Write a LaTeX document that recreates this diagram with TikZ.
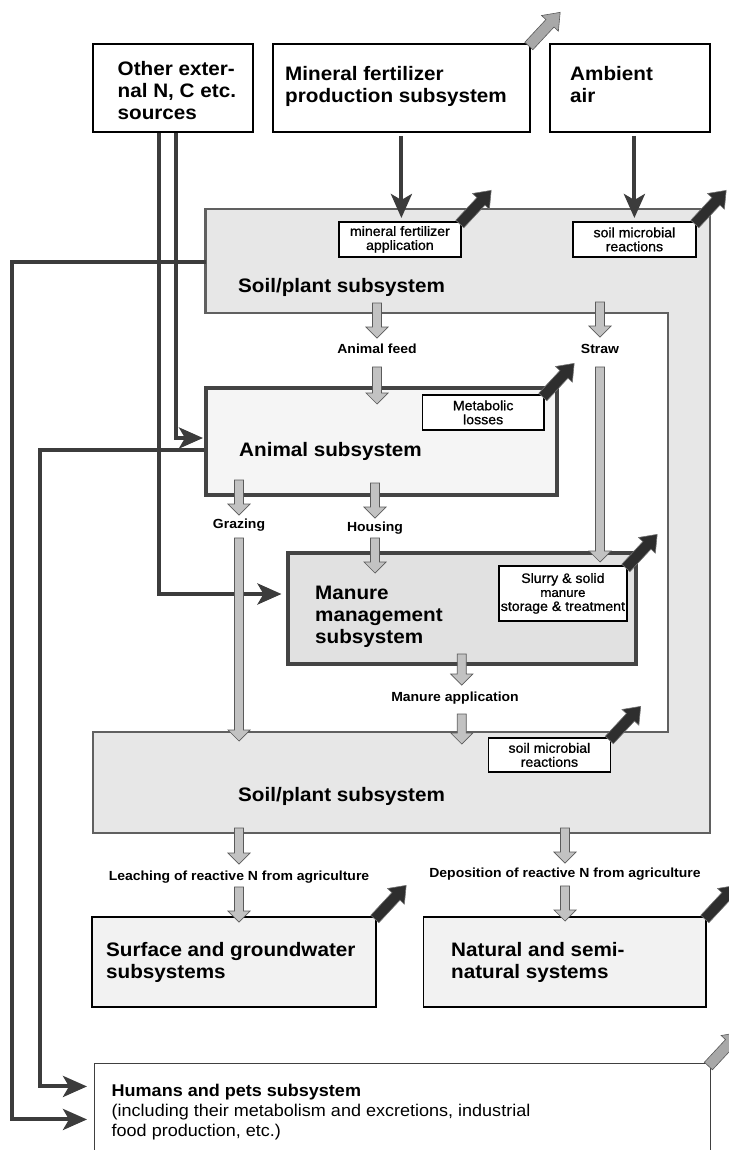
\documentclass[tikz,border=0pt]{standalone}
\usepackage{fontspec}
\setmainfont[FakeStretch=1.06]{Liberation Sans}
\newfontfamily\tagfamily[FakeStretch=1.04,FakeBold=0.9]{Liberation Sans}
\usetikzlibrary{arrows.meta,calc,positioning}

\definecolor{linkgray}{HTML}{3C3C3C}
\definecolor{soilfill}{HTML}{E7E7E7}
\definecolor{soiledge}{HTML}{606060}
\definecolor{animalfill}{HTML}{F5F5F5}
\definecolor{manurefill}{HTML}{E1E1E1}
\definecolor{boxfill}{HTML}{F2F2F2}
\definecolor{subedge}{HTML}{444444}
\definecolor{flowfill}{HTML}{C2C2C2}
\definecolor{flowedge}{HTML}{5A5A5A}
\definecolor{emisdark}{HTML}{2E2E2E}
\definecolor{emislight}{HTML}{A8A8A8}

\newcommand\titlefont{\fontsize{19.5}{22}\selectfont\bfseries}
\newcommand\flowfont{\fontsize{13.2}{14}\selectfont\bfseries}
\newcommand\tagfont{\tagfamily\fontsize{13.6}{14}\selectfont}
\newcommand\humanfont{\fontsize{17}{20}\selectfont}

\newcommand\flowarrow[2]{%
  \filldraw[flowstyle] let \p1=#1, \p2=#2 in
    (\x1-4.5pt,\y1) -- (\x1-4.5pt,\y2+11pt) -- (\x1-11pt,\y2+11pt) -- (\x1,\y2)
    -- (\x1+11pt,\y2+11pt) -- (\x1+4.5pt,\y2+11pt) -- (\x1+4.5pt,\y1) -- cycle;}

\begin{document}
\begin{tikzpicture}[x=1pt,y=-1pt,
    box/.style={draw=black, line width=1.8pt, fill=white, anchor=north west, inner sep=0pt},
    tag/.style={box, font=\tagfont, align=center},
    subsys/.style={draw=subedge, line width=4pt, anchor=north west, inner sep=0pt},
    title/.style={font=\titlefont, align=left, anchor=north west, inner sep=0pt},
    flowlabel/.style={font=\flowfont, inner sep=0pt, text height=9.5pt, text depth=0pt},
    link/.style={draw=linkgray, line width=4pt, -{Stealth[length=24pt,width=21pt,inset=6pt]}},
    flowstyle/.style={draw=flowedge, fill=flowfill, line width=0.7pt},
    soil/.style={draw=soiledge, fill=soilfill, line width=2.5pt},
    darkemis/.style={draw=black!55, fill=emisdark, line width=0.6pt},
    grayemis/.style={draw=black!65, fill=emislight, line width=0.6pt},
    pics/emission/.style={code={\filldraw[#1] (0,-5.5) -- (31,-5.5) -- (31,-11.5)
        -- (46,0) -- (31,11.5) -- (31,5.5) -- (0,5.5) -- cycle;}}]
  \useasboundingbox (0,0) rectangle (728,1150);

  \draw[soil] (205.5,209) -- (710,209) -- (710,833) -- (93,833) -- (93,732)
    -- (668,732) -- (668,313) -- (205.5,313) -- cycle;
  \coordinate (soilW) at (205.5,262);
  \coordinate (lowtop) at (0,732);

  \node[box, minimum width=160pt, minimum height=88pt] (ext) at (92,43) {};
  \node[box, minimum width=257pt, minimum height=88pt] (mineral) at (272,43) {};
  \node[box, minimum width=160pt, minimum height=88pt] (ambient) at (549,43) {};
  \node[tag, minimum width=122pt, minimum height=35pt] (mfa) at (338,221) {mineral fertilizer\\application};
  \node[tag, minimum width=123pt, minimum height=35pt] (smrtop) at (572,221) {soil microbial\\reactions};
  \node[subsys, fill=animalfill, minimum width=351pt, minimum height=107pt] (animal) at (204,386) {};
  \node[tag, minimum width=121.5pt, minimum height=35pt] (metab) at (421.5,394) {Metabolic\\losses};
  \node[subsys, fill=manurefill, minimum width=348.5pt, minimum height=111pt] (manure) at (285.5,551) {};
  \node[tag, minimum width=128pt, minimum height=55pt] (slurry) at (498,565)
    {Slurry \& solid\\{\fontsize{12.8}{13}\selectfont manure}\\storage \& treatment};
  \node[tag, minimum width=122pt, minimum height=34pt] (smrlow) at (487.5,737) {soil microbial\\reactions};
  \node[box, fill=boxfill, minimum width=284pt, minimum height=90pt] (surface) at (91,916) {};
  \node[box, fill=boxfill, minimum width=282.5pt, minimum height=90pt] (natural) at (422.5,916) {};
  \node[box, draw=black!75, line width=0.9pt, minimum width=615.5pt, minimum height=140pt] (humans) at (94,1063) {};

  \node[title] (extlabel) at (117.5,61) {Other exter-\\nal N, C etc.\\sources};
  \node[title] (minlabel) at (285,66) {Mineral fertilizer\\production subsystem};
  \node[title] (airlabel) at (570,66) {Ambient\\air};
  \node[title] (soiltoplabel) at (238,278) {Soil/plant subsystem};
  \node[title] (animallabel) at (239,442) {Animal subsystem};
  \node[title] (manurelabel) at (315,586) {Manure\\management\\subsystem};
  \node[title] (soillowlabel) at (238,787) {Soil/plant subsystem};
  \node[title] (surfacelabel) at (106,942) {Surface and groundwater\\subsystems};
  \node[title] (naturallabel) at (451,942) {Natural and semi-\\natural systems};
  \node[title, font=\humanfont] (humanslabel) at (111.5,1084)
    {\textbf{Humans and pets subsystem}\\(including their metabolism and excretions, industrial\\food production, etc.)};

  \node[flowlabel] (feed) at (377,349) {Animal feed};
  \node[flowlabel] (straw) at (600,349) {Straw};
  \node[flowlabel] (grazing) at (239,524) {Grazing};
  \node[flowlabel] (housing) at (375,527) {Housing};
  \node[flowlabel] (mapp) at (455,697) {Manure application};
  \node[flowlabel] (leach) at (239,876) {Leaching of reactive N from agriculture};
  \node[flowlabel] (depo) at (565,873) {Deposition of reactive N from agriculture};

  \draw[link, shorten <=3pt, shorten >=3pt] (mineral.south) -- (mineral.south |- mfa.north);
  \draw[link, shorten <=3pt, shorten >=3pt] (smrtop.north |- ambient.south) -- (smrtop.north);
  \draw[link, shorten >=1pt] ([xshift=3.5pt]ext.south) |- ([yshift=3.5pt]animal.west);
  \draw[link, shorten >=4pt] ([xshift=-14pt]ext.south) |- ([yshift=14.5pt]manure.west);
  \draw[link, shorten >=7pt] (soilW) -- ++(-194,0) |- ([yshift=14pt]humans.west);
  \draw[link, shorten >=7pt] ([yshift=-8.5pt]animal.west) -- ++(-164.5,0) |- ([yshift=47pt]humans.west);

  \flowarrow{([yshift=41pt]feed.north)}{([yshift=6pt]feed.north)}
  \flowarrow{([yshift=-13pt]feed.south)}{([yshift=-18pt]animal.north)}
  \flowarrow{([yshift=42pt]straw.north)}{([yshift=7pt]straw.north)}
  \flowarrow{([yshift=-13pt]straw.south)}{([yshift=-11pt]manure.north)}
  \flowarrow{([yshift=39pt]grazing.north)}{([yshift=4pt]grazing.north)}
  \flowarrow{([yshift=-9pt]grazing.south)}{([yshift=-9pt]lowtop)}
  \flowarrow{([yshift=39pt]housing.north)}{([yshift=4pt]housing.north)}
  \flowarrow{([yshift=-6pt]housing.south)}{([yshift=-22pt]manure.north)}
  \flowarrow{([yshift=12pt]manure.south)}{([yshift=7pt]mapp.north)}
  \flowarrow{([yshift=-48pt]manure.south)}{([yshift=-12pt]lowtop)}
  \flowarrow{([yshift=43pt]leach.north)}{([yshift=7pt]leach.north)}
  \flowarrow{([yshift=-6pt]leach.south)}{([yshift=-6pt]surface.north)}
  \flowarrow{([yshift=40pt]depo.north)}{([yshift=5pt]depo.north)}
  \flowarrow{([yshift=-8pt]depo.south)}{([yshift=-5pt]natural.north)}

  \pic[rotate=47] at ([shift={(-2,3)}]mineral.north east) {emission=grayemis};
  \pic[rotate=47] at ([shift={(-2,3)}]mfa.north east) {emission=darkemis};
  \pic[rotate=47] at ([shift={(-2,3)}]smrtop.north east) {emission=darkemis};
  \pic[rotate=47] at ([shift={(-2,3)}]metab.north east) {emission=darkemis};
  \pic[rotate=47] at ([shift={(-2,3)}]slurry.north east) {emission=darkemis};
  \pic[rotate=47] at ([shift={(-2,3)}]smrlow.north east) {emission=darkemis};
  \pic[rotate=47] at ([shift={(-2,3)}]surface.north east) {emission=darkemis};
  \pic[rotate=47] at ([shift={(-2,3)}]natural.north east) {emission=darkemis};
  \pic[rotate=47] at ([shift={(-2,3)}]humans.north east) {emission=grayemis};
\end{tikzpicture}
\end{document}
